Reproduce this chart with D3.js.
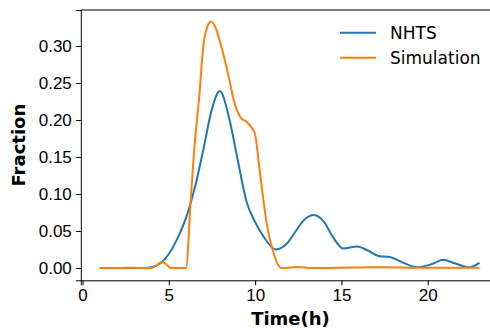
<!DOCTYPE html>
<html>
<head>
<meta charset="utf-8">
<script src="https://cdn.jsdelivr.net/npm/d3@7"></script>
<style>
  body { margin: 0; background: #fff; }
  svg { display: block; font-family: "DejaVu Sans", sans-serif; }
</style>
</head>
<body>
<div id="vis-div"></div>
<script>
// NHTS series (hours, fraction)
var nhtsHours = [1, 2, 3, 3.6, 4, 4.5, 5, 5.5, 6, 6.5, 7, 7.5, 7.95, 8.5, 9, 9.5, 10, 10.5, 11.2, 11.8, 12.3, 12.8, 13.4, 14, 14.5, 15.1, 15.9, 16.5, 17.2, 17.8, 18.5, 19.4, 20.2, 20.9, 21.6, 22.4, 23];
var nhtsValues = [0, 0, 0, 0, 0.001, 0.006, 0.019, 0.04, 0.068, 0.108, 0.16, 0.215, 0.239, 0.202, 0.145, 0.09, 0.062, 0.042, 0.025, 0.032, 0.048, 0.064, 0.0716, 0.062, 0.042, 0.0265, 0.029, 0.024, 0.016, 0.015, 0.008, 0.001, 0.005, 0.011, 0.006, 0.001, 0.007];

// Simulation series
var simHours = [1, 1.5, 2, 2.5, 3, 3.5, 4, 4.3, 4.6, 4.9, 5.1, 5.5, 6, 6.25, 6.5, 6.75, 7, 7.25, 7.45, 7.7, 8, 8.25, 8.5, 8.75, 9, 9.25, 9.5, 9.75, 10, 10.25, 10.5, 10.75, 11, 11.25, 11.5, 12, 12.4, 13, 14, 15, 16, 17, 18, 19, 20, 21, 22, 23];
var simValues = [0, 0, 0, 0.0003, 0.0002, 0, 0, 0.004, 0.008, 0.004, 0, 0, 0, 0.085, 0.168, 0.228, 0.3, 0.327, 0.333, 0.325, 0.303, 0.28, 0.255, 0.228, 0.21, 0.201, 0.198, 0.191, 0.18, 0.135, 0.088, 0.05, 0.026, 0.008, 0, 0.0005, 0.0015, 0.0005, 0, 0.0003, 0.0008, 0.001, 0.0008, 0.0005, 0.0003, 0.0003, 0.0002, 0.0002];

var xTicks = [0, 5, 10, 15, 20];
var yTicks = [0, 0.05, 0.10, 0.15, 0.20, 0.25, 0.30];
var seriesNames = ["NHTS", "Simulation"];
var colors = ["#1f77b4", "#ff7f0e"];

var width = 490;
var height = 330;

var svg = d3.select("#vis-div").append("svg").attr("width", width).attr("height", height);

var x = d3.scaleLinear()
    .domain([-0.1, 24.1])
    .range([80.8, 498.5]);

var y = d3.scaleLinear()
    .domain([-0.0166, 0.3486])
    .range([280.3, 10]);

var series = [
    nhtsHours.map((h, i) => [h, nhtsValues[i]]),
    simHours.map((h, i) => [h, simValues[i]])
];

var line = d3.line()
    .x(d => x(d[0]))
    .y(d => y(d[1]))
    .curve(d3.curveMonotoneX);

svg.append("g")
    .selectAll("path").data(series).enter().append("path")
    .attr("fill", "none")
    .attr("stroke", (d, i) => colors[i])
    .attr("stroke-width", 2)
    .attr("d", line);

// axes
var xAxis = g => g
    .attr("transform", `translate(0,${y.range()[0]})`)
    .call(d3.axisBottom(x).tickValues(xTicks).tickFormat(d3.format("d"))
        .tickSizeOuter(0).tickSize(5).tickPadding(4))
    .call(g => g.selectAll("text").attr("font-size", 17).attr("fill", "#000"));

var yAxis = g => g
    .attr("transform", `translate(${x.range()[0]},0)`)
    .call(d3.axisLeft(y).tickValues(yTicks).tickFormat(d3.format(".2f"))
        .tickSizeOuter(0).tickSize(5).tickPadding(4))
    .call(g => g.selectAll("text").attr("font-size", 17).attr("fill", "#000"));

svg.append("g").call(xAxis);
svg.append("g").call(yAxis);

// top + right spines
svg.append("line")
    .attr("x1", x.range()[0]).attr("x2", x.range()[1])
    .attr("y1", y.range()[1]).attr("y2", y.range()[1])
    .attr("stroke", "#000");
svg.append("line")
    .attr("x1", x.range()[1]).attr("x2", x.range()[1])
    .attr("y1", y.range()[1]).attr("y2", y.range()[0])
    .attr("stroke", "#000");

svg.selectAll(".domain").attr("stroke", "#000");
svg.selectAll(".tick line").attr("stroke", "#000");

// axis labels
svg.append("text")
    .attr("x", (x(0) + 498.5) / 2)
    .attr("y", 325)
    .attr("text-anchor", "middle")
    .attr("font-size", 18)
    .attr("font-weight", "bold")
    .text("Time(h)");

svg.append("text")
    .attr("transform", `translate(25,${(y.range()[0] + y.range()[1]) / 2}) rotate(-90)`)
    .attr("text-anchor", "middle")
    .attr("font-size", 18)
    .attr("font-weight", "bold")
    .text("Fraction");

// legend
var legend = svg.append("g");
seriesNames.forEach((name, i) => {
    var ly = 32.7 + i * 25;
    legend.append("line")
        .attr("x1", 340).attr("x2", 376)
        .attr("y1", ly).attr("y2", ly)
        .attr("stroke", colors[i])
        .attr("stroke-width", 2);
    legend.append("text")
        .attr("x", 390)
        .attr("y", ly)
        .attr("dy", "0.35em")
        .attr("font-size", 17)
        .text(name);
});
</script>
</body>
</html>
